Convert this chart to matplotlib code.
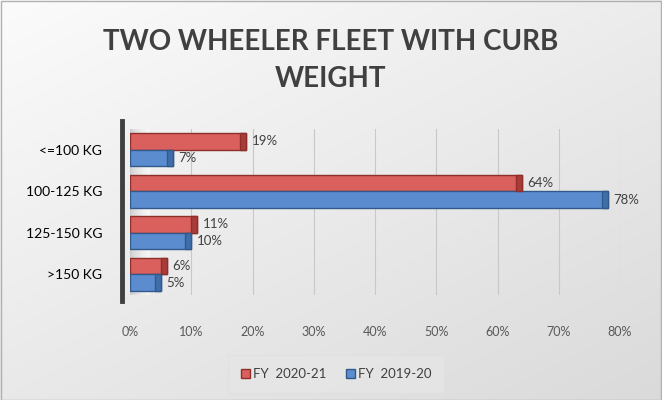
import numpy as np
import matplotlib
matplotlib.use("Agg")
import matplotlib.pyplot as plt
from matplotlib.patches import Patch

categories = ["<=100 KG", "100-125 KG", "125-150 KG", ">150 KG"]
fy_2021 = [19, 64, 11, 6]
fy_2020 = [7, 78, 10, 5]
labels_2021 = ["19%", "64%", "11%", "6%"]
labels_2020 = ["7%", "78%", "10%", "5%"]
series_names = ["FY  2020-21", "FY  2019-20"]
xticks = [0, 10, 20, 30, 40, 50, 60, 70, 80]

plt.rcParams['font.family'] = ['Lato', 'DejaVu Sans']

W, H = 662, 400
fig = plt.figure(figsize=(W / 100, H / 100), dpi=100)

# background gradient
bg = fig.add_axes([0, 0, 1, 1])
yy, xx = np.mgrid[0:1:200j, 0:1:331j]
grad = 0.985 - 0.13 * (0.55 * yy + 0.45 * xx)
bg.imshow(np.dstack([grad, grad, grad]), aspect='auto', extent=[0, 1, 0, 1],
          origin='upper', interpolation='bilinear')
bg.set_xlim(0, 1); bg.set_ylim(0, 1)
bg.axis('off')
bg.add_patch(plt.Rectangle((0.001, 0.001), 0.997, 0.996, fill=False,
                           edgecolor='#b0b0b0', lw=1))

fig.text(0.5, 1 - 42 / H, "TWO WHEELER FLEET WITH CURB", ha='center', va='center',
         fontsize=20, fontweight='bold', color='#404040')
fig.text(0.5, 1 - 79 / H, "WEIGHT", ha='center', va='center',
         fontsize=20, fontweight='bold', color='#404040')

ax = fig.add_axes([130 / W, 1 - 295 / H, 490 / W, 166 / H])
ax.patch.set_alpha(0)

# shaded wall/floor region next to the axis
shade = np.linspace(0.62, 0.0, 50)[None, :]
ax.imshow(shade, cmap='Greys', vmin=0, vmax=1.6, aspect='auto', alpha=0.55,
          extent=[0, 3.2, len(categories) - 0.5, -0.65], zorder=1)

y = np.arange(len(categories))
h = 0.4
cap = 1.0
b1 = ax.barh(y - h / 2, fy_2021, height=h, color='#d9605c', edgecolor='#8e2f2c',
             linewidth=1.0, label=series_names[0], zorder=3)
b2 = ax.barh(y + h / 2, fy_2020, height=h, color='#5a8ccf', edgecolor='#32598a',
             linewidth=1.0, label=series_names[1], zorder=3)
# darker end caps (3D depth look)
ax.barh(y - h / 2, [cap] * len(fy_2021), left=np.array(fy_2021) - cap, height=h,
        color='#a93c39', edgecolor='#8e2f2c', linewidth=1.0, zorder=4)
ax.barh(y + h / 2, [cap] * len(fy_2020), left=np.array(fy_2020) - cap, height=h,
        color='#3f6ea8', edgecolor='#32598a', linewidth=1.0, zorder=4)
ax.bar_label(b1, labels=labels_2021, padding=4, fontsize=9.5, color='#404040')
ax.bar_label(b2, labels=labels_2020, padding=4, fontsize=9.5, color='#404040')

ax.set_ylim(len(categories) - 0.5, -0.5)
ax.set_xlim(0, 80)
ax.set_yticks(y)
ax.set_yticklabels(categories, fontsize=8.5, color='#595959')
ax.set_xticks(xticks)
ax.set_xticklabels([f"{t}%" for t in xticks], fontsize=9, color='#595959')
ax.tick_params(axis='y', length=0, pad=14)
ax.tick_params(axis='x', length=0, pad=22)
ax.xaxis.grid(True, color='#c8c8c8', lw=0.8, zorder=0)
for s in ['top', 'right', 'bottom']:
    ax.spines[s].set_visible(False)
ax.spines['left'].set_position(('outward', 6))
ax.spines['left'].set_color('#404040')
ax.spines['left'].set_linewidth(3.5)
ax.spines['left'].set_bounds(len(categories) - 0.35, -0.7)

handles = [Patch(facecolor='#d9605c', edgecolor='#8e2f2c'),
           Patch(facecolor='#5a8ccf', edgecolor='#32598a')]
leg = fig.legend(handles, series_names, loc='center', bbox_to_anchor=(336 / W, 1 - 374 / H),
                 ncol=2, fontsize=9.5, frameon=True, handlelength=0.7, handleheight=0.7,
                 handletextpad=0.2, columnspacing=1.5, borderpad=0.7)
leg.get_frame().set_facecolor('#e6e6e6')
leg.get_frame().set_edgecolor('#e0e0e0')
leg.get_frame().set_boxstyle('square')
for t in leg.get_texts():
    t.set_color('#404040')

fig.savefig("out.png", dpi=100)
